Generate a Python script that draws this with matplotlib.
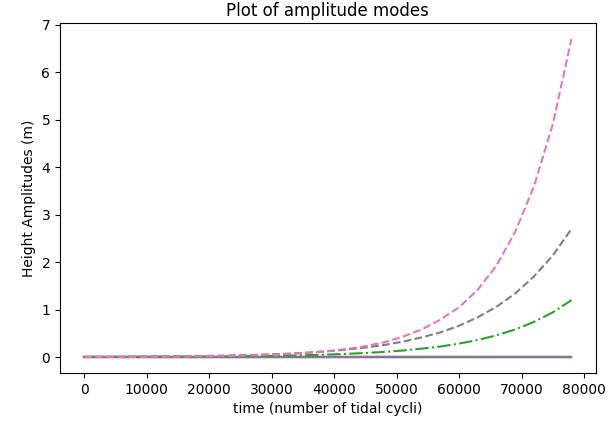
import matplotlib
matplotlib.use("Agg")
import matplotlib.pyplot as plt

# time (number of tidal cycli)
time = [0, 3000, 6000, 9000, 12000, 15000, 18000, 21000, 24000, 27000,
        30000, 33000, 36000, 39000, 42000, 45000, 48000, 51000, 54000,
        57000, 60000, 63000, 66000, 69000, 72000, 75000, 78000]

# growing modes
mode_pink = [0.002, 0.003, 0.004, 0.006, 0.008, 0.011, 0.015, 0.020, 0.027,
             0.037, 0.050, 0.068, 0.092, 0.125, 0.17, 0.23, 0.31, 0.43, 0.58,
             0.79, 1.05, 1.42, 1.93, 2.64, 3.60, 4.90, 6.70]
mode_gray = [0.005, 0.007, 0.0085, 0.011, 0.014, 0.017, 0.022, 0.028, 0.036,
             0.046, 0.058, 0.074, 0.096, 0.123, 0.158, 0.20, 0.255, 0.325,
             0.415, 0.52, 0.66, 0.84, 1.06, 1.34, 1.70, 2.14, 2.70]
mode_green = [0.0024, 0.003, 0.0038, 0.0049, 0.0062, 0.0076, 0.0098, 0.012,
              0.016, 0.020, 0.026, 0.033, 0.042, 0.053, 0.068, 0.086, 0.109,
              0.138, 0.178, 0.222, 0.284, 0.36, 0.458, 0.582, 0.742, 0.942, 1.20]
# modes that stay at zero
mode_zero = [0.0] * len(time)

fig = plt.figure(figsize=(6.08, 4.33), dpi=100)
ax = fig.add_axes([0.0987, 0.1386, 0.8813, 0.808])

for c in ["tab:blue", "tab:orange", "tab:red", "tab:brown", "tab:olive",
          "tab:cyan", "tab:purple"]:
    ax.plot(time, mode_zero, color=c, linestyle="-")
ax.plot(time, mode_zero, color="tab:gray", linestyle="-", alpha=0.55)

ax.plot(time, mode_green, color="tab:green", linestyle="-.")
ax.plot(time, mode_gray, color="tab:gray", linestyle="--")
ax.plot(time, mode_pink, color="tab:pink", linestyle="--")

ax.set_title("Plot of amplitude modes", pad=5)
ax.set_xlabel("time (number of tidal cycli)")
ax.set_ylabel("Height Amplitudes (m)")

fig.savefig("out.png", dpi=100)
